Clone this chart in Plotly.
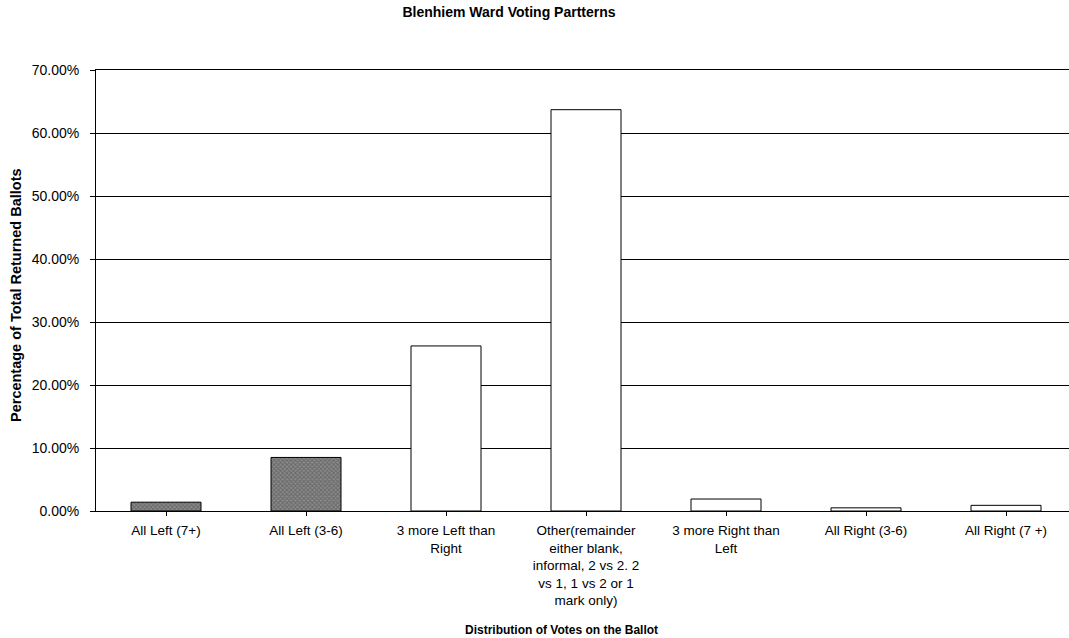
import plotly.graph_objects as go

categories = [
    "All Left (7+)",
    "All Left (3-6)",
    "3 more Left than<br>Right",
    "Other(remainder<br>either blank,<br>informal, 2 vs 2. 2<br>vs 1, 1 vs 2 or 1<br>mark only)",
    "3 more Right than<br>Left",
    "All Right (3-6)",
    "All Right (7 +)",
]
values = [0.014, 0.085, 0.262, 0.637, 0.019, 0.005, 0.009]
patterned = [True, True, False, False, False, False, False]
y_ticks = [0, 0.1, 0.2, 0.3, 0.4, 0.5, 0.6, 0.7]

FONT = "Liberation Sans, Arial, sans-serif"

fig = go.Figure()
fig.add_trace(go.Bar(
    x=list(range(len(categories))),
    y=values,
    width=0.5,
    marker=dict(
        color=["#8a8a8a" if p else "white" for p in patterned],
        line=dict(color="black", width=1),
        pattern=dict(
            shape=["x" if p else "" for p in patterned],
            fgcolor="#333333",
            bgcolor="#bdbdbd",
            size=3,
            solidity=0.5,
        ),
    ),
    showlegend=False,
))

fig.update_layout(
    width=1069,
    height=638,
    margin=dict(l=96, r=0, t=70, b=127),
    paper_bgcolor="white",
    plot_bgcolor="white",
    font=dict(family=FONT, color="black", size=13),
    title=dict(
        text="<b>Blenhiem Ward Voting Partterns</b>",
        x=509 / 1069, xanchor="center",
        y=1 - 12 / 638, yanchor="middle", yref="container",
        font=dict(size=14, family=FONT, color="black"),
    ),
)

fig.update_xaxes(
    tickmode="array",
    tickvals=list(range(len(categories))),
    ticktext=categories,
    range=[-0.5, 6.45],
    showgrid=False,
    showline=True, linecolor="black", linewidth=1, mirror=True,
    ticks="outside", ticklen=4, tickcolor="black",
    tickson="boundaries",
    ticklabelstandoff=3,
    tickfont=dict(size=13.5, family=FONT, color="black"),
    zeroline=False,
)

fig.update_yaxes(
    range=[0, 0.7],
    tickvals=y_ticks,
    tickformat=".2%",
    showgrid=True, gridcolor="black", gridwidth=1,
    showline=True, linecolor="black", linewidth=1,
    ticks="outside", ticklen=5, tickcolor="black",
    ticklabelstandoff=8,
    tickfont=dict(size=14, family=FONT, color="black"),
    zeroline=False,
)

fig.add_annotation(
    text="<b>Distribution of Votes on the Ballot</b>",
    xref="paper", yref="paper",
    x=(561 - 96) / 973, y=(511 - 630) / 441,
    xanchor="center", yanchor="middle",
    showarrow=False,
    font=dict(size=12, family=FONT, color="black"),
)
fig.add_annotation(
    text="<b>Percentage of Total Returned Ballots</b>",
    xref="paper", yref="paper",
    x=(16 - 96) / 973, y=(511 - 295) / 441,
    xanchor="center", yanchor="middle",
    textangle=-90,
    showarrow=False,
    font=dict(size=14.5, family=FONT, color="black"),
)

fig.write_html(
    "out.html",
    config={"displayModeBar": False},
    post_script="document.body.style.margin='0';document.body.style.overflow='hidden';",
)
